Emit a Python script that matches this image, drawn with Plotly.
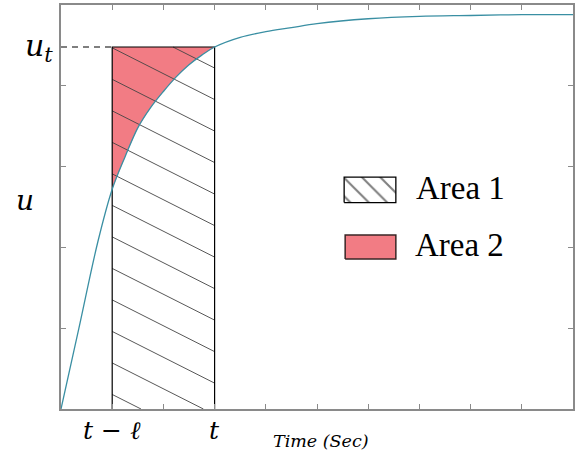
import plotly.graph_objects as go

# ---- data ----
time = [0, 0.35, 0.72, 1.0, 1.25, 1.5, 1.75, 2.0, 2.25, 2.5, 2.75, 3.0,
        3.5, 4.0, 4.5, 5.0, 6.0, 7.0, 8.0, 9.0, 10.0]
u_curve = [0, 1.0, 2.07, 2.72, 3.12, 3.48, 3.73, 3.93, 4.11, 4.26, 4.38, 4.48,
           4.60, 4.67, 4.72, 4.77, 4.83, 4.86, 4.87, 4.88, 4.88]
t_minus_l = 1.0
t_now = 3.0
u_t = 4.48
x_ticks = list(range(0, 11))
y_ticks = list(range(0, 6))
x_tick_labels = ["<i>t</i> − <i>ℓ</i>", "<i>t</i>"]
legend_labels = ["Area 1", "Area 2"]
y_labels = ["<i>u</i><sub><i>t</i></sub>", "<i>u</i>"]
x_title = "<i>Time (Sec)</i>"

# ---- styles ----
RED = "#f27c84"
CURVE = "#3a8fa3"
AXIS = "#8a8a8a"
HATCH = "#444444"
MATH_FONT = "DejaVu Serif"
TEXT_FONT = "Liberation Serif"

fig = go.Figure()

# Area 2: between u_t and the curve over [t-l, t]
seg = [(x, y) for x, y in zip(time, u_curve) if t_minus_l <= x <= t_now]
seg_x = [p[0] for p in seg]
seg_y = [p[1] for p in seg]
fig.add_trace(go.Scatter(
    x=[t_minus_l, t_now] + seg_x[::-1],
    y=[u_t, u_t] + seg_y[::-1],
    fill="toself", fillcolor=RED, mode="lines", line=dict(width=0),
    hoverinfo="skip", showlegend=False))

# Area 1: hatching of the rectangle [t-l, t] x [0, u_t]
slope = -0.32
spacing = 0.39
phase = 4.08
hx, hy = [], []
c = phase
while c - spacing > -abs(slope) * (t_now - t_minus_l) - spacing:
    c -= spacing
while c < u_t + abs(slope) * (t_now - t_minus_l):
    xs = t_minus_l if c <= u_t else t_minus_l + (u_t - c) / slope
    ye_end = c + slope * (t_now - t_minus_l)
    xe = t_now if ye_end >= 0 else t_minus_l + (0 - c) / slope
    if xe > xs + 1e-6:
        hx += [xs, xe, None]
        hy += [c + slope * (xs - t_minus_l), c + slope * (xe - t_minus_l), None]
    c += spacing
fig.add_trace(go.Scatter(x=hx, y=hy, mode="lines",
                         line=dict(color=HATCH, width=0.9),
                         hoverinfo="skip", showlegend=False))

# dashed guide at u_t
fig.add_trace(go.Scatter(x=[0, t_minus_l], y=[u_t, u_t], mode="lines",
                         line=dict(color="black", width=1.2, dash="6px,5px"),
                         hoverinfo="skip", showlegend=False))

# rectangle outline
fig.add_trace(go.Scatter(x=[t_minus_l, t_minus_l, t_now, t_now],
                         y=[0, u_t, u_t, 0], mode="lines",
                         line=dict(color="black", width=1.2),
                         hoverinfo="skip", showlegend=False))

# response curve
fig.add_trace(go.Scatter(x=time, y=u_curve, mode="lines",
                         line=dict(color=CURVE, width=1.3, shape="spline", smoothing=1.0),
                         hoverinfo="skip", showlegend=False))

# custom legend on an overlay axis (0..1 across the plot area)
box1 = (0.553, 0.654, 0.511, 0.574)
box2 = (0.555, 0.654, 0.371, 0.431)
fig.add_trace(go.Scatter(
    x=[box1[0], box1[1], box1[1], box1[0], box1[0]],
    y=[box1[2], box1[2], box1[3], box1[3], box1[2]],
    xaxis="x2", yaxis="y2", mode="lines", fill="toself", fillcolor="white",
    fillpattern=dict(shape="\\", fgcolor="black", bgcolor="white", size=13, solidity=0.16),
    line=dict(color="black", width=1.3), hoverinfo="skip", showlegend=False))
fig.add_trace(go.Scatter(
    x=[box2[0], box2[1], box2[1], box2[0], box2[0]],
    y=[box2[2], box2[2], box2[3], box2[3], box2[2]],
    xaxis="x2", yaxis="y2", mode="lines", fill="toself", fillcolor=RED,
    line=dict(color="#3a2626", width=1.5), hoverinfo="skip", showlegend=False))

annotations = [
    dict(text=legend_labels[0], x=0.689, y=0.547, xref="paper", yref="paper",
         xanchor="left", yanchor="middle", showarrow=False,
         font=dict(family=TEXT_FONT, size=33, color="black")),
    dict(text=legend_labels[1], x=0.6875, y=0.405, xref="paper", yref="paper",
         xanchor="left", yanchor="middle", showarrow=False,
         font=dict(family=TEXT_FONT, size=33, color="black")),
    dict(text=y_labels[0], x=-0.012, y=u_t, xref="paper", yref="y",
         xanchor="right", yanchor="middle", showarrow=False,
         font=dict(family=MATH_FONT, size=30, color="black")),
    dict(text=y_labels[1], x=-0.070, y=0.517, xref="paper", yref="paper",
         xanchor="center", yanchor="middle", showarrow=False,
         font=dict(family=MATH_FONT, size=28, color="black")),
    dict(text=x_tick_labels[0], x=t_minus_l, y=-0.052, xref="x", yref="paper",
         xanchor="center", yanchor="middle", showarrow=False,
         font=dict(family=MATH_FONT, size=25, color="black")),
    dict(text=x_tick_labels[1], x=t_now, y=-0.052, xref="x", yref="paper",
         xanchor="center", yanchor="middle", showarrow=False,
         font=dict(family=MATH_FONT, size=25, color="black")),
    dict(text=x_title, x=0.508, y=-0.078, xref="paper", yref="paper",
         xanchor="center", yanchor="middle", showarrow=False,
         font=dict(family=MATH_FONT, size=17.5, color="black")),
]

axis_common = dict(showgrid=False, zeroline=False, showline=True, linecolor=AXIS,
                   linewidth=2, mirror="ticks", ticks="inside", ticklen=5,
                   tickcolor=AXIS, tickwidth=1, showticklabels=False)

fig.update_layout(
    width=579, height=457,
    margin=dict(l=61, r=6, t=3, b=48),
    paper_bgcolor="white", plot_bgcolor="white",
    showlegend=False,
    xaxis=dict(range=[0, 10], tickvals=x_ticks, **axis_common),
    yaxis=dict(range=[0, 5], tickvals=y_ticks, **axis_common),
    xaxis2=dict(overlaying="x", range=[0, 1], visible=False),
    yaxis2=dict(overlaying="y", range=[0, 1], visible=False),
    annotations=annotations,
)

fig.write_html("out.html")
